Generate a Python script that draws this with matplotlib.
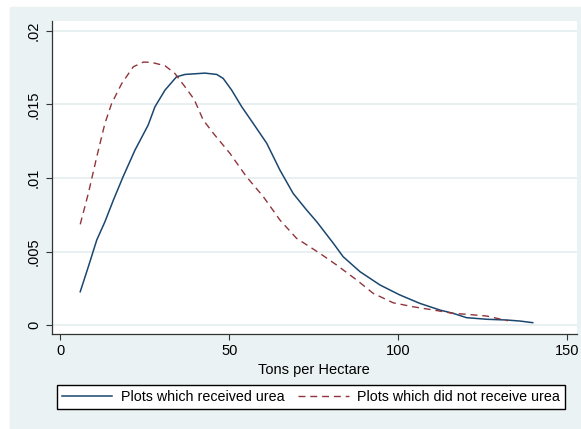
import matplotlib.pyplot as plt
from matplotlib.patches import Rectangle

plt.rcParams['font.family'] = ['Liberation Sans', 'DejaVu Sans']

# kernel density, plots which received urea
urea_x = [5.9, 8.3, 10.8, 13.2, 15.7, 18.6, 22.1, 26.0, 28.0, 31.0, 34.4, 36.9,
          42.8, 46.3, 48.2, 50.7, 53.7, 57.1, 61.1, 65.0, 68.9, 72.9, 75.9,
          80.8, 83.7, 88.7, 94.6, 100.5, 106.4, 112.3, 116.3, 120.2, 126.2,
          132.1, 136.0, 139.8]
urea_y = [0.00228, 0.00398, 0.0058, 0.00703, 0.0085, 0.0101, 0.0119, 0.0136,
          0.01484, 0.01598, 0.01688, 0.01704, 0.01713, 0.01704, 0.01677,
          0.01598, 0.01484, 0.01371, 0.01236, 0.01054, 0.00896, 0.00783,
          0.00703, 0.00557, 0.00466, 0.00364, 0.00274, 0.00206, 0.00149,
          0.00104, 0.00081, 0.00052, 0.00041, 0.00036, 0.00029, 0.00018]

# kernel density, plots which did not receive urea
no_urea_x = [5.9, 8.3, 10.8, 13.2, 15.2, 18.2, 21.6, 24.6, 27.0, 31.0, 33.9,
             36.9, 39.6, 42.3, 45.3, 50.2, 55.1, 60.1, 65.0, 69.9, 76.8, 81.8,
             87.7, 92.6, 98.5, 104.4, 110.4, 116.3, 120.2, 126.2, 130.1, 132.5]
no_urea_y = [0.00686, 0.00896, 0.01145, 0.01371, 0.01507, 0.01643, 0.01756,
             0.01788, 0.01786, 0.01763, 0.01711, 0.0162, 0.01535, 0.01394,
             0.01304, 0.01168, 0.01009, 0.00873, 0.00715, 0.00591, 0.00489,
             0.00409, 0.00308, 0.00217, 0.00153, 0.00126, 0.00104, 0.00081,
             0.00075, 0.00063, 0.00043, 0.00031]

xticks = [0, 50, 100, 150]
yticks = [0, 0.005, 0.01, 0.015, 0.02]
ylabels = ["0", ".005", ".01", ".015", ".02"]

bg = "#EAF2F3"
navy = "#1A476F"
maroon = "#90353B"

fig = plt.figure(figsize=(5.81, 4.29), dpi=100, facecolor="white")
fig.patches.append(Rectangle((10/581, 0), 1 - 10/581, 1 - 7/429,
                             transform=fig.transFigure, color=bg, zorder=-5))

ax = fig.add_axes([51.5/581, 1 - 334/429, (577 - 51.5)/581, (334 - 21)/429])
ax.set_facecolor("white")

ax.plot(urea_x, urea_y, color=navy, lw=1.1, label="Plots which received urea")
ax.plot(no_urea_x, no_urea_y, color=maroon, lw=1.0, dashes=(5, 3.5),
        label="Plots which did not receive urea")

ax.set_xlim(-2.6, 152.9)
ax.set_ylim(-0.00059, 0.02067)
ax.set_xticks(xticks)
ax.set_yticks(yticks)
ax.set_yticklabels(ylabels, rotation=90, va="center")
ax.grid(axis="y", color="#E4EEF0", lw=1.2)
ax.set_axisbelow(True)
ax.tick_params(labelsize=10.5, length=4, width=0.8, color="#333333")
for s in ["top", "right"]:
    ax.spines[s].set_visible(False)
for s in ["left", "bottom"]:
    ax.spines[s].set_color("#333333")
    ax.spines[s].set_linewidth(0.9)

ax.set_xlabel("Tons per Hectare", fontsize=10.5, labelpad=3)

fig.legend(loc="lower left", ncol=2,
           bbox_to_anchor=(56.7/581, 1 - 409.3/429),
           fontsize=10.3, frameon=True, fancybox=False, edgecolor="black",
           framealpha=1, handlelength=3.5, handletextpad=0.6,
           columnspacing=1.0, borderaxespad=0, borderpad=0.36)

fig.savefig("out.png", dpi=100, facecolor="white")
